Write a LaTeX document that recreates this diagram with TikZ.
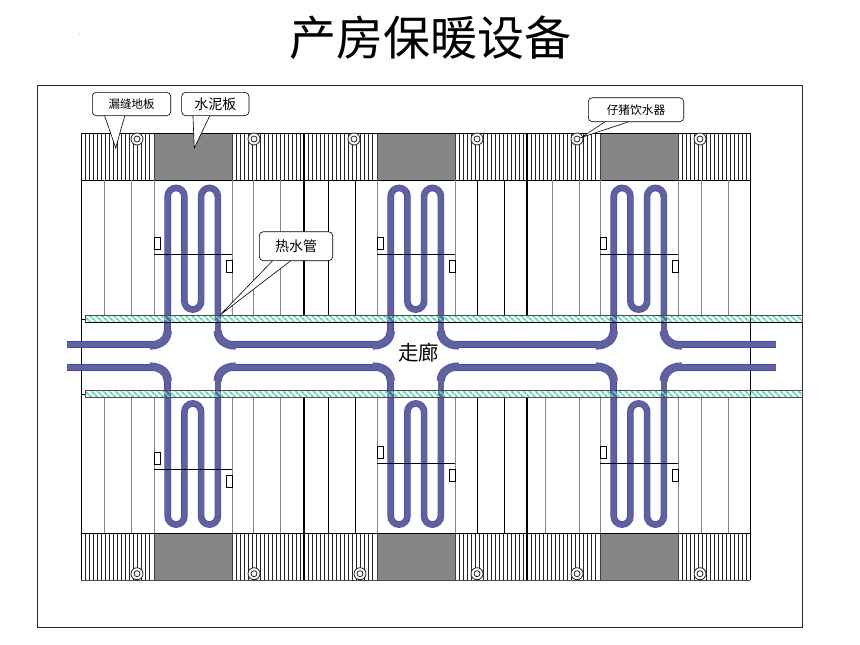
\documentclass[tikz,border=0pt]{standalone}
\usepackage{fontspec}
\setmainfont{Noto Sans CJK SC}
\usetikzlibrary{patterns.meta}
\definecolor{pipeFill}{HTML}{62629A}
\definecolor{pipeEdge}{HTML}{4444C8}
\definecolor{wallGreen}{HTML}{60D8B8}
\definecolor{slabGray}{HTML}{9C9C9C}
\definecolor{gridGray}{HTML}{858585}
\begin{document}
\begin{tikzpicture}[x=1pt,y=-1pt,
	pipe/.style={draw=pipeEdge, line width=0.6pt, double=pipeFill, double distance=5.4pt},
	elbow/.style={draw=pipeEdge, line width=0.6pt, double=pipeFill, double distance=7pt},
	wall/.style={draw=black!70, line width=0.9pt, pattern={Lines[angle=-45, distance=4pt, line width=2pt]}, pattern color=wallGreen},
	slab/.style={fill=slabGray, draw=black!75, line width=0.7pt},
	grid/.style={draw=gridGray, line width=0.9pt},
	thin grid/.style={draw=black, line width=0.6pt},
	note/.style={draw, fill=white, rounded corners=4pt, inner sep=0pt, line width=0.6pt},
	drinker/.style={draw=black!85, fill=white, line width=0.8pt}]
	\useasboundingbox (0,0) rectangle (860,645);
	\node[font=\fontsize{47}{47}\selectfont, inner sep=0pt] (title) at (430,38) {产房保暖设备};
	\fill[gray] (79,34) circle (0.5);
	\draw[line width=0.7pt, draw=black!85] (37,85) rectangle (802,627);

	% slatted strips, top and bottom
	\foreach \xa in {81,232,304,455,527,678} {
		\foreach \n in {1,...,17} {
			\draw[line width=0.75pt, draw=black!85] ({\xa+\n*4.05},133) -- ({\xa+\n*4.05},180);
			\draw[line width=0.75pt, draw=black!85] ({\xa+\n*4.05},533) -- ({\xa+\n*4.05},580);
		}
	}
	\foreach \xa in {154,377,600} {
		\draw[slab] (\xa,133) rectangle ({\xa+78},180);
		\fill[pattern={Dots[distance=2pt, radius=0.55pt]}, pattern color=black!75] (\xa,133) rectangle ({\xa+78},180);
		\draw[slab, fill=none] (\xa,133) rectangle ({\xa+78},180);
		\draw[slab] (\xa,533) rectangle ({\xa+78},580);
		\fill[pattern={Dots[distance=2pt, radius=0.55pt]}, pattern color=black!75] (\xa,533) rectangle ({\xa+78},580);
		\draw[slab, fill=none] (\xa,533) rectangle ({\xa+78},580);
	}
	\draw[line width=0.7pt] (81,133) -- (750,133) (81,180) -- (750,180);
	\draw[line width=0.7pt] (81,533) -- (750,533);
	\draw[line width=0.9pt, draw=black!70] (81,580) -- (750,580);

	% pen divisions
	\foreach \xa in {104.7,131.7,154,232,253.7,280.7,377,455,552,579,600,678,701,728} {
		\draw[grid] (\xa,180) -- (\xa,316);
	}
	\foreach \xa in {328,355,477,504} {
		\draw[thin grid] (\xa,180) -- (\xa,316);
		\draw[thin grid] (\xa,397) -- (\xa,533);
	}
	\foreach \xa in {104.7,131.7,154,232,253.7,280.7,377,455,545,579,600,678,701,728} {
		\draw[grid] (\xa,397) -- (\xa,533);
	}
	\draw[line width=0.8pt] (81,133) -- (81,580);
	\draw[line width=0.8pt] (750,133) -- (750,580);
	\foreach \xa in {304,527} {
		\draw[line width=2.2pt] (\xa,133) -- (\xa,316);
		\draw[line width=2.2pt] (\xa,397) -- (\xa,580);
	}

	% drinkers
	\foreach \xa in {137,254,354,477,577,700} {
		\draw[drinker] (\xa,139) circle (6) (\xa,139) circle (3);
	}
	\foreach \xa in {137,254,360,477,577,700} {
		\draw[drinker] (\xa,573.7) circle (6) (\xa,573.7) circle (3);
	}

	% corridor mains
	\foreach \py in {344.5,367.5} {
		\foreach \xa/\xb in {67/153,232/376,454/599,678/776} {
			\draw[pipe] (\xa,\py) -- (\xb,\py);
		}
	}
	% heating coils
	\foreach \dx in {0,223,446} {
		\draw[pipe] ({167.7+\dx},318) -- ({167.7+\dx},196.3) arc[start angle=180,end angle=360,radius=8.35]
			-- ({184.4+\dx},301.2) arc[start angle=180,end angle=0,radius=8.35]
			-- ({201.1+\dx},196.3) arc[start angle=180,end angle=360,radius=8.35] -- ({217.8+\dx},318);
		\draw[pipe] ({167.7+\dx},394) -- ({167.7+\dx},516.2) arc[start angle=180,end angle=0,radius=8.35]
			-- ({184.4+\dx},411.8) arc[start angle=180,end angle=360,radius=8.35]
			-- ({201.1+\dx},516.2) arc[start angle=180,end angle=0,radius=8.35] -- ({217.8+\dx},394);
		\foreach \px/\sx in {167.7/-1,217.8/1} {
			\foreach \py/\sy in {344.5/-1,367.5/1} {
				\draw[pipe] ({\px+\dx},{\py+\sy*27}) -- ({\px+\dx},{\py+\sy*13});
				\draw[elbow] ({\px+\dx},{\py+\sy*13.5}) .. controls ({\px+\dx},{\py+\sy*5}) and ({\px+\dx+\sx*7},{\py-\sy*1}) .. ({\px+\dx+\sx*18},{\py-\sy*1});
			}
		}
	}

	% pen rails and gates
	\foreach \dx/\yt/\yb in {0/254.3/469.3,223/254.3/463.3,446/254.3/463.3} {
		\draw[line width=0.6pt] ({154+\dx},\yt) -- ({232+\dx},\yt);
		\draw[line width=0.6pt] ({154+\dx},\yb) -- ({232+\dx},\yb);
		\draw[line width=0.6pt, fill=white] ({154+\dx},{\yt-17.5}) rectangle ({160+\dx},{\yt-5.5});
		\draw[line width=0.6pt, fill=white] ({226.3+\dx},{\yt+5.7}) rectangle ({232.3+\dx},{\yt+18});
		\draw[line width=0.6pt, fill=white] ({154+\dx},{\yb-17.5}) rectangle ({160+\dx},{\yb-5.5});
		\draw[line width=0.6pt, fill=white] ({226.3+\dx},{\yb+5.7}) rectangle ({232.3+\dx},{\yb+18});
	}

	% corridor walls
	\draw[wall] (85,315.5) rectangle (802,322);
	\draw[wall] (85,390.5) rectangle (802,397);
	\draw[line width=0.7pt] (81,319) -- (85,319) (81,394) -- (85,394);
	\draw[line width=0.8pt] (85,322) -- (802,322);
	\node[font=\fontsize{20.5}{20.5}\selectfont, inner sep=0pt] (corridor) at (418.5,353) {走廊};

	% call-outs
	\coordinate (leakTip) at (115.7,148);
	\coordinate (cementTip) at (194.3,148);
	\coordinate (pipeTip) at (220,315);
	\coordinate (drinkerTip) at (581.7,137.3);
	\node[note, font=\fontsize{11.5}{11.5}\selectfont, minimum width=78.4pt, minimum height=23.4pt] (leakNote) at (131.5,104) {漏缝地板};
	\node[note, font=\fontsize{14}{14}\selectfont, minimum width=67.3pt, minimum height=23.4pt] (cementNote) at (215.3,104) {水泥板};
	\node[note, font=\fontsize{14}{14}\selectfont, minimum width=73.4pt, minimum height=29pt] (pipeNote) at (296,246.2) {热水管};
	\node[note, font=\fontsize{11.7}{11.7}\selectfont, minimum width=95.4pt, minimum height=24pt] (drinkerNote) at (636,109.7) {仔猪饮水器};
	\foreach \note/\tip/\ba/\bb in {leakNote/leakTip/12.7/32.7,cementNote/cementTip/11.6/28.3,pipeNote/pipeTip/13.4/31.4,drinkerNote/drinkerTip/16.7/40} {
		\fill[white] ([xshift=\ba pt]\note.south west) -- (\tip) -- ([xshift=\bb pt]\note.south west) -- cycle;
		\draw[line width=0.6pt] ([xshift=\ba pt]\note.south west) -- (\tip) -- ([xshift=\bb pt]\note.south west);
	}
\end{tikzpicture}
\end{document}
